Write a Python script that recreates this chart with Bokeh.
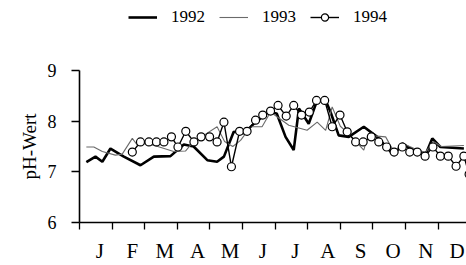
from bokeh.plotting import figure
from bokeh.models import Range1d, FixedTicker, Legend, LegendItem
from bokeh.layouts import column
from bokeh.embed import file_html
from bokeh.resources import INLINE

# Month labels (x unit = months since 1 January)
months = ["J", "F", "M", "A", "M", "J", "J", "A", "S", "O", "N", "D"]
y_ticks = [6, 7, 8, 9]
series_names = ["1992", "1993", "1994"]

# 1992 (thick line)
x1992 = [0.21, 0.49, 0.70, 0.95, 1.36, 1.87, 2.28, 2.79, 3.20, 3.50, 3.92, 4.22,
         4.43, 4.73, 5.04, 5.40, 5.80, 6.05, 6.32, 6.57, 6.73, 7.03, 7.29, 7.55,
         7.70, 7.95, 8.26, 8.72, 9.13, 9.64, 9.90, 10.15, 10.61, 10.82, 11.07, 11.79]
y1992 = [7.19, 7.30, 7.20, 7.46, 7.30, 7.13, 7.30, 7.31, 7.54, 7.50, 7.23, 7.20,
         7.30, 7.79, 7.76, 7.98, 8.18, 8.15, 7.69, 7.43, 8.25, 7.95, 8.41, 8.41,
         8.18, 7.72, 7.69, 7.89, 7.69, 7.33, 7.56, 7.46, 7.33, 7.66, 7.49, 7.46]

# 1993 (thin line)
x1993 = [0.21, 0.44, 0.70, 1.10, 1.31, 1.62, 1.77, 2.07, 2.40, 2.89, 3.25, 3.50,
         3.81, 4.22, 4.45, 4.70, 4.94, 5.25, 5.60, 5.86, 6.42, 6.98, 7.29, 7.55,
         7.75, 8.00, 8.26, 8.72, 8.85, 9.39, 9.64, 9.95, 10.30, 10.61, 10.85, 11.10, 11.79]
y1993 = [7.49, 7.49, 7.40, 7.33, 7.35, 7.66, 7.53, 7.56, 7.50, 7.40, 7.41, 7.60,
         7.72, 7.89, 7.60, 7.50, 7.62, 7.89, 7.89, 8.18, 7.92, 7.82, 7.98, 7.82,
         8.28, 7.90, 7.75, 7.43, 7.72, 7.69, 7.40, 7.55, 7.45, 7.38, 7.60, 7.50, 7.52]

# 1994 (line with open circles)
x1994 = [1.62, 1.87, 2.13, 2.36, 2.59, 2.82, 3.02, 3.26, 3.51, 3.73, 3.99, 4.22,
         4.43, 4.66, 4.91, 5.14, 5.40, 5.62, 5.86, 6.09, 6.34, 6.57, 6.81, 7.05,
         7.27, 7.52, 7.75, 7.99, 8.21, 8.47, 8.70, 8.95, 9.18, 9.42, 9.65, 9.90,
         10.13, 10.36, 10.60, 10.84, 11.07, 11.31, 11.55, 11.79, 11.95]
y1994 = [7.39, 7.59, 7.59, 7.59, 7.59, 7.69, 7.49, 7.80, 7.59, 7.69, 7.69, 7.59,
         7.98, 7.10, 7.80, 7.80, 8.02, 8.12, 8.20, 8.31, 8.10, 8.31, 8.12, 8.18,
         8.41, 8.41, 7.89, 8.12, 7.79, 7.59, 7.59, 7.69, 7.59, 7.49, 7.39, 7.49,
         7.39, 7.39, 7.31, 7.49, 7.31, 7.31, 7.11, 7.31, 6.95]

FONT = "Liberation Serif"

STY92 = dict(line_color="black", line_width=2.6)
STY93 = dict(line_color="#6a6a6a", line_width=1.1)
STY94 = dict(line_color="black", line_width=1.4)
STY94C = dict(marker="circle", size=8, fill_color="white", line_color="black", line_width=1.2)

# ---- main chart ----
p = figure(width=466, height=230, output_backend="svg", toolbar_location=None,
           x_range=Range1d(0, 11.87), y_range=Range1d(6, 9),
           min_border_left=79, min_border_right=0, min_border_top=35,
           min_border_bottom=42)
p.outline_line_color = None
p.grid.visible = False

p.line(x1992, y1992, **STY92)
p.line(x1993, y1993, **STY93)
p.line(x1994, y1994, **STY94)
p.scatter(x1994, y1994, **STY94C)

# x axis: month boundaries as (minor) ticks, labels near mid-month
label_pos = [i + 0.62 for i in range(len(months) - 1)] + [11.58]
xa = p.xaxis[0]
xa.ticker = FixedTicker(ticks=label_pos, minor_ticks=list(range(0, 13)))
xa.major_label_overrides = {pos: m for pos, m in zip(label_pos, months)}
xa.major_tick_line_color = None
xa.major_tick_out = 7
xa.major_tick_in = 0
xa.minor_tick_line_color = "black"
xa.minor_tick_line_width = 1.3
xa.minor_tick_out = 7
xa.minor_tick_in = 0
xa.axis_line_width = 1.6
xa.major_label_standoff = 9
xa.major_label_text_font = FONT
xa.major_label_text_font_size = "21px"
xa.major_label_text_color = "black"

ya = p.yaxis[0]
ya.ticker = FixedTicker(ticks=y_ticks)
ya.minor_tick_line_color = None
ya.major_tick_out = 8
ya.major_tick_in = 0
ya.major_tick_line_width = 1.3
ya.axis_line_width = 1.6
ya.major_label_standoff = 15
ya.major_label_text_font = FONT
ya.major_label_text_font_size = "18px"
ya.major_label_text_color = "black"
ya.axis_label = "pH-Wert"
ya.axis_label_text_font = FONT
ya.axis_label_text_font_size = "19px"
ya.axis_label_text_font_style = "normal"
ya.axis_label_text_color = "black"
ya.axis_label_standoff = 5

# ---- legend strip on top (legend-only renderers, no visible data) ----
nan = float("nan")
lg = figure(width=466, height=35, output_backend="svg", toolbar_location=None,
            x_range=Range1d(0, 1), y_range=Range1d(0, 1),
            min_border=0, x_axis_type=None, y_axis_type=None)
lg.outline_line_color = None
lg.grid.visible = False
l92 = lg.line([nan], [nan], **STY92)
l93 = lg.line([nan], [nan], **STY93)
l94 = lg.line([nan], [nan], **STY94)
l94c = lg.scatter([nan], [nan], **STY94C)

legend = Legend(items=[LegendItem(label=series_names[0], renderers=[l92]),
                       LegendItem(label=series_names[1], renderers=[l93]),
                       LegendItem(label=series_names[2], renderers=[l94, l94c])],
                orientation="horizontal", location=(49, 8))
legend.border_line_color = None
legend.background_fill_alpha = 0
legend.padding = 0
legend.margin = 0
legend.spacing = 14
legend.glyph_width = 29
legend.glyph_height = 18
legend.label_standoff = 14
legend.label_text_font = FONT
legend.label_text_font_size = "17px"
legend.label_text_color = "black"
lg.add_layout(legend, "center")

layout = column(lg, p, spacing=0)
open("out.html", "w").write(file_html(layout, INLINE))
